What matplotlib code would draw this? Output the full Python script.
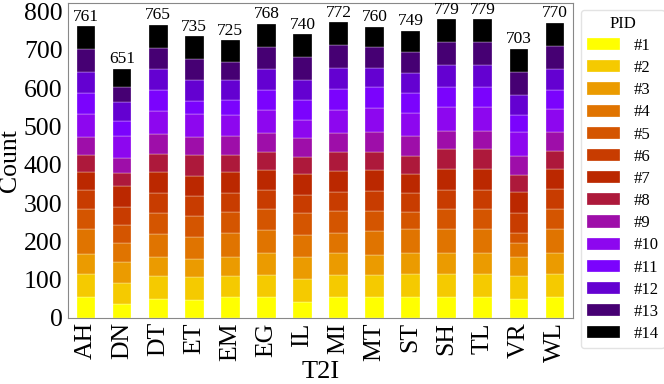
import numpy as np
import matplotlib
matplotlib.use("Agg")
import matplotlib.pyplot as plt

categories = ["AH", "DN", "DT", "ET", "EM", "EG", "IL", "MI", "MT", "ST", "SH", "TL", "VR", "WL"]
pids = [f"#{i}" for i in range(1, 15)]

# rows: category, columns: PID #1..#14
values = {
    "AH": [55, 59, 54, 63, 53, 50, 47, 45, 46, 61, 54, 56, 59, 59],
    "DN": [36, 55, 54, 52, 46, 46, 55, 34, 39, 59, 37, 50, 41, 47],
    "DT": [49, 61, 50, 60, 55, 50, 55, 49, 50, 62, 54, 54, 55, 61],
    "ET": [46, 60, 49, 56, 55, 52, 53, 54, 47, 60, 35, 54, 54, 60],
    "EM": [54, 56, 50, 61, 55, 50, 56, 43, 50, 56, 39, 52, 47, 56],
    "EG": [54, 59, 56, 60, 56, 50, 52, 45, 52, 59, 51, 55, 59, 60],
    "IL": [43, 59, 56, 59, 56, 48, 54, 44, 50, 47, 53, 53, 60, 58],
    "MI": [54, 59, 56, 54, 56, 49, 55, 50, 50, 61, 54, 55, 59, 60],
    "MT": [54, 59, 52, 62, 53, 51, 54, 49, 52, 61, 56, 50, 54, 53],
    "ST": [54, 62, 54, 63, 44, 50, 50, 47, 52, 60, 50, 54, 55, 54],
    "SH": [56, 59, 55, 62, 53, 50, 55, 50, 49, 61, 54, 56, 59, 60],
    "TL": [56, 59, 55, 62, 53, 50, 54, 51, 49, 61, 54, 56, 59, 60],
    "VR": [49, 61, 50, 35, 28, 52, 53, 45, 50, 62, 44, 53, 61, 60],
    "WL": [54, 61, 55, 61, 54, 52, 52, 47, 49, 61, 50, 55, 60, 59],
}
totals = [761, 651, 765, 735, 725, 768, 740, 772, 760, 749, 779, 779, 703, 770]

plt.rcParams['font.family'] = ['Liberation Serif', 'DejaVu Serif']

fig = plt.figure(figsize=(6.64, 3.84), dpi=100)
ax = fig.add_axes([68/664, 1 - 318/384, (573-68)/664, (318-3)/384])

data = np.array([values[c] for c in categories])
colors = plt.cm.gnuplot(np.linspace(1, 0, len(pids)))
x = np.arange(len(categories))
bottom = np.zeros(len(categories))
for j, pid in enumerate(pids):
    ax.bar(x, data[:, j], width=0.52, bottom=bottom, color=colors[j], label=pid,
           edgecolor='white', linewidth=0.2)
    bottom += data[:, j]

for xi, t in zip(x, totals):
    ax.text(xi, t + 4, str(t), ha='center', va='bottom', fontsize=12.5)

ax.set_xlim(-0.5, len(categories) - 0.5)
ax.set_ylim(0, 822)
ax.set_yticks(np.arange(0, 801, 100))
ax.set_xticks(x)
ax.set_xticklabels(categories, rotation=90, fontsize=18.5)
ax.tick_params(axis='y', labelsize=18.5, length=0, pad=4)
ax.tick_params(axis='x', length=0, pad=3)
ax.set_ylabel("Count", fontsize=18.5)
ax.yaxis.set_label_coords(-0.093, 0.5)
ax.set_xlabel("T2I", fontsize=19)
ax.xaxis.set_label_coords(0.5, -0.135)
for s in ax.spines.values():
    s.set_color('#888888')
    s.set_linewidth(0.8)

leg = ax.legend(title="PID", loc='upper left', bbox_to_anchor=(1.016, 0.978),
                fontsize=12, title_fontsize=12, handlelength=2.0, handleheight=0.75,
                labelspacing=0.37, borderaxespad=0, frameon=True, handletextpad=0.8,
                borderpad=0.35)
leg.get_frame().set_edgecolor('#dddddd')

fig.savefig("out.png", dpi=100)
